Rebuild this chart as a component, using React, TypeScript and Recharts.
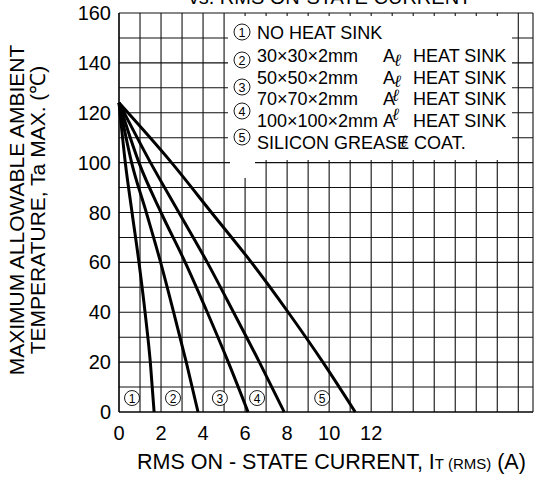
import { CartesianGrid, ComposedChart, Line, Scatter, XAxis, YAxis } from "recharts";

// Ta MAX. vs RMS on-state current, one curve per heat sink condition
const curve1 = [
  { x: 0, y: 124 }, { x: 0.3, y: 100 }, { x: 0.62, y: 80 }, { x: 0.95, y: 60 },
  { x: 1.24, y: 40 }, { x: 1.49, y: 20 }, { x: 1.67, y: 0 },
];
const curve2 = [
  { x: 0, y: 124 }, { x: 0.6, y: 100 }, { x: 1.3, y: 80 }, { x: 1.98, y: 60 },
  { x: 2.6, y: 40 }, { x: 3.2, y: 20 }, { x: 3.76, y: 0 },
];
const curve3 = [
  { x: 0, y: 124 }, { x: 0.95, y: 100 }, { x: 2.0, y: 80 }, { x: 3.15, y: 60 },
  { x: 4.2, y: 40 }, { x: 5.2, y: 20 }, { x: 6.14, y: 0 },
];
const curve4 = [
  { x: 0, y: 124 }, { x: 1.5, y: 100 }, { x: 2.85, y: 80 }, { x: 4.2, y: 60 },
  { x: 5.45, y: 40 }, { x: 6.68, y: 20 }, { x: 7.86, y: 0 },
];
const curve5 = [
  { x: 0, y: 124 }, { x: 2.5, y: 100 }, { x: 4.4, y: 80 }, { x: 6.3, y: 60 },
  { x: 8.05, y: 40 }, { x: 9.7, y: 20 }, { x: 11.24, y: 0 },
];
const curves = [curve1, curve2, curve3, curve4, curve5];

// circled numbers near the foot of each curve
const curveTags = [
  { x: 0.62, y: 5.6, n: 1 },
  { x: 2.57, y: 5.6, n: 2 },
  { x: 4.8, y: 5.6, n: 3 },
  { x: 6.57, y: 5.6, n: 4 },
  { x: 9.67, y: 5.6, n: 5 },
];

const xTicks = [0, 1, 2, 3, 4, 5, 6, 7, 8, 9, 10, 11, 12, 13, 14, 15, 16, 17, 18, 19, 19.7];
const xLabels = [0, 2, 4, 6, 8, 10, 12];
const yTicks = [0, 10, 20, 30, 40, 50, 60, 70, 80, 90, 100, 110, 120, 130, 140, 150, 160];
const yLabels = [0, 20, 40, 60, 80, 100, 120, 140, 160];

const legendSizes = ["30×30×2mm", "50×50×2mm", "70×70×2mm", "100×100×2mm"];

const FONT = '"Liberation Sans", Arial, sans-serif';

function Tag(props: any) {
  const { cx, cy, payload } = props;
  return (
    <g>
      <circle cx={cx} cy={cy} r={7.5} fill="#fff" stroke="#000" strokeWidth={0.9} />
      <text x={cx} y={cy + 4.5} textAnchor="middle" fontSize={12} fontFamily={FONT}>
        {payload.n}
      </text>
    </g>
  );
}

function Circled({ x, y, n }: { x: number; y: number; n: number }) {
  return (
    <g>
      <circle cx={x} cy={y} r={8} fill="#fff" stroke="#000" strokeWidth={0.9} />
      <text x={x} y={y + 4.5} textAnchor="middle" fontSize={12.5} fontFamily={FONT}>
        {n}
      </text>
    </g>
  );
}

export default function App() {
  return (
    <div style={{ position: "absolute", left: 0, top: 0, width: 534, height: 478, background: "#fff", fontFamily: FONT }}>
      <ComposedChart
        width={534}
        height={478}
        margin={{ top: 13, right: 1, bottom: 0, left: 0 }}
      >
        <CartesianGrid
          stroke="#111"
          strokeWidth={1.1}
          horizontalValues={yTicks}
          verticalValues={xTicks}
        />
        <XAxis
          type="number"
          dataKey="x"
          domain={[0, 19.7]}
          ticks={xTicks}
          interval={0}
          height={66}
          tickSize={0}
          tickMargin={14}
          axisLine={{ stroke: "#000", strokeWidth: 1.2 }}
          tick={{ fill: "#000", fontSize: 20, fontFamily: FONT }}
          tickFormatter={(v: number) => (xLabels.includes(v) ? String(v) : "")}
        />
        <YAxis
          type="number"
          dataKey="y"
          domain={[0, 160]}
          ticks={yTicks}
          interval={0}
          width={119}
          tickSize={0}
          tickMargin={8}
          axisLine={{ stroke: "#000", strokeWidth: 1.2 }}
          tick={{ fill: "#000", fontSize: 20, fontFamily: FONT }}
          tickFormatter={(v: number) => (yLabels.includes(v) ? String(v) : "")}
        />
        {curves.map((c, i) => (
          <Line
            key={i}
            data={c}
            dataKey="y"
            type="monotone"
            stroke="#000"
            strokeWidth={3}
            dot={false}
            isAnimationActive={false}
          />
        ))}
        <Scatter data={curveTags} dataKey="y" shape={Tag} isAnimationActive={false} />
      </ComposedChart>

      <svg
        width={534}
        height={478}
        style={{ position: "absolute", left: 0, top: 0, pointerEvents: "none" }}
        fontFamily={FONT}
      >
        {/* clipped title at the very top */}
        <text x={330} y={4} textAnchor="middle" fontSize={20}>
          vs. RMS ON-STATE CURRENT
        </text>

        {/* legend block */}
        <rect x={228} y={16} width={284} height={144} fill="#fff" />
        <rect x={230} y={159} width={25} height={19} fill="#fff" />
        <Circled x={242} y={32} n={1} />
        <Circled x={242} y={60} n={2} />
        <Circled x={242} y={87} n={3} />
        <Circled x={242} y={111} n={4} />
        <Circled x={242} y={137} n={5} />
        <g fontSize={18}>
          <text x={257} y={39}>NO HEAT SINK</text>
          {legendSizes.map((s, i) => (
            <g key={s}>
              <text x={257} y={62 + i * 21.5}>{s}</text>
              <text x={383} y={62 + i * 21.5}>A</text>
              <text x={413} y={62 + i * 21.5}>HEAT SINK</text>
            </g>
          ))}
          <text x={257} y={149}>SILICON GREASE COAT.</text>
        </g>
        <g fontSize={17} fontStyle="italic" fontFamily='"DejaVu Serif", serif'>
          <text x={394} y={66}>ℓ</text>
          <text x={394} y={87}>ℓ</text>
          <text x={392} y={101}>ℓ</text>
          <text x={392} y={120}>ℓ</text>
          <text x={400} y={147}>ℓ</text>
        </g>

        {/* axis titles */}
        <text
          transform="translate(24,210) rotate(-90)"
          textAnchor="middle"
          fontSize={21}
        >
          MAXIMUM ALLOWABLE AMBIENT
        </text>
        <text
          transform="translate(45,210) rotate(-90)"
          textAnchor="middle"
          fontSize={21}
        >
          TEMPERATURE, Ta MAX. (℃)
        </text>
        <text x={137} y={469} fontSize={21.5}>
          RMS ON - STATE CURRENT, I
          <tspan fontSize={15}>T (RMS)</tspan>
          <tspan> (A)</tspan>
        </text>
      </svg>
    </div>
  );
}
